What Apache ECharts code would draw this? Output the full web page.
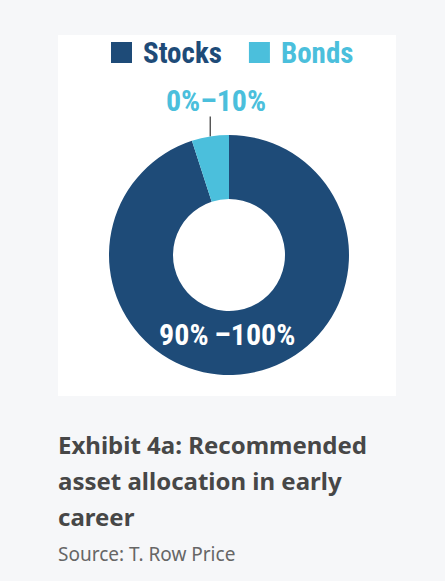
<!DOCTYPE html>
<html>
<head>
<meta charset="utf-8">
<script src="https://cdn.jsdelivr.net/npm/echarts@6/dist/echarts.min.js"></script>
<style>
  html, body { margin: 0; padding: 0; background: #f6f7f9; }
  #chartDom { width: 445px; height: 581px; }
</style>
</head>
<body>
<div id="chartDom"></div>
<script>
// data
const categories = ['Stocks', 'Bonds'];
const shares = [95, 5];
const rangeLabels = ['90%\u2009\u2013100%', '0%\u201310%'];
const colors = ['#1e4b78', '#4bbfdc'];

const titleText = 'Exhibit 4a: Recommended\nasset allocation in early\ncareer';
const sourceText = 'Source: T. Row Price';

const condensed = '"Roboto Condensed", Roboto, "Liberation Sans", sans-serif';

const chart = echarts.init(document.getElementById('chartDom'), null, { renderer: 'svg' });

const option = {
  backgroundColor: '#f6f7f9',
  animation: false,
  graphic: [
    {
      type: 'rect',
      z: -10,
      shape: { x: 58, y: 35, width: 338, height: 361 },
      style: { fill: '#ffffff' }
    }
  ],
  title: [
    {
      text: titleText,
      left: 58,
      top: 426,
      textStyle: {
        fontFamily: '"Noto Sans", "Open Sans", sans-serif',
        fontWeight: 'bold',
        fontSize: 24,
        lineHeight: 36,
        color: '#474747'
      },
      padding: 0
    },
    {
      text: sourceText,
      left: 58,
      top: 544,
      textStyle: {
        fontFamily: '"Noto Sans", "Open Sans", sans-serif',
        fontWeight: 'normal',
        fontSize: 19,
        color: '#666666'
      },
      padding: 0
    }
  ],
  legend: {
    top: 38,
    left: 111,
    padding: 0,
    icon: 'rect',
    itemWidth: 21,
    itemHeight: 21,
    itemGap: 27,
    selectedMode: false,
    data: categories.map((name, i) => ({
      name: name,
      textStyle: {
        color: colors[i],
        fontFamily: condensed,
        fontWeight: 'bold',
        fontSize: 29,
        padding: [0, 0, 0, 6]
      }
    }))
  },
  series: [
    {
      type: 'pie',
      center: [229, 255],
      radius: [56, 120],
      startAngle: 90,
      clockwise: true,
      silent: true,
      itemStyle: { borderWidth: 0 },
      labelLine: {
        show: true,
        length: 20,
        length2: 0,
        lineStyle: { color: '#333333', width: 1.2 }
      },
      labelLayout: function (p) {
        if (p.dataIndex === 0) {
          return { dx: -16, dy: -10 };
        }
        // keep the leader line straight up from the slice edge
        const start = p.labelLinePoints ? p.labelLinePoints[0] : null;
        const out = { x: 216, y: 100, align: 'center', verticalAlign: 'middle' };
        if (start) {
          out.labelLinePoints = [[start[0], start[1]], [start[0], start[1] - 10], [start[0], start[1] - 20]];
        }
        return out;
      },
      data: categories.map((name, i) => ({
        name: name,
        value: shares[i],
        itemStyle: { color: colors[i] },
        label: i === 0 ? {
          show: true,
          position: 'inside',
          formatter: rangeLabels[i],
          color: '#ffffff',
          fontFamily: condensed,
          fontWeight: 'bold',
          fontSize: 30
        } : {
          show: true,
          position: 'outside',
          formatter: rangeLabels[i],
          color: colors[i],
          fontFamily: condensed,
          fontWeight: 'bold',
          fontSize: 30
        },
        labelLine: { show: i === 1 }
      }))
    }
  ]
};

chart.setOption(option);
</script>
</body>
</html>
